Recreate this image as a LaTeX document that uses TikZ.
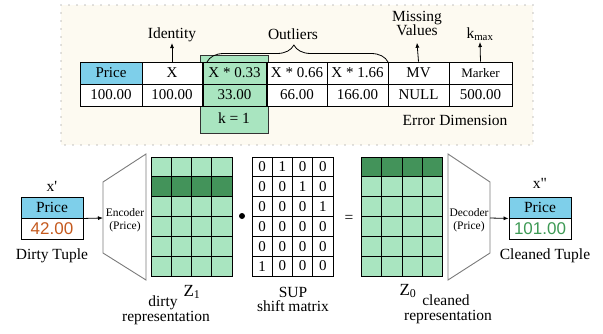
\documentclass[tikz,border=0pt]{standalone}
\usepackage{fontspec}
\setmainfont{Liberation Serif}
\setsansfont{Liberation Sans}
\usetikzlibrary{decorations.pathreplacing,arrows.meta}
\definecolor{cream}{HTML}{FDFAF1}
\definecolor{hdrblue}{HTML}{7ECFEA}
\definecolor{lgreen}{HTML}{A9E5C0}
\definecolor{dgreen}{HTML}{43935A}
\definecolor{dirtyc}{HTML}{C55A1E}
\definecolor{cleanc}{HTML}{3E9A55}
\definecolor{trapc}{HTML}{7A7A7A}
\begin{document}
\begin{tikzpicture}[x=1pt,y=-1pt,
  txt/.style={inner sep=1pt, font=\fontsize{15.5}{17}\selectfont},
  tight/.style={inner sep=0pt, text height=9pt, text depth=2pt, font=\fontsize{15.5}{17}\selectfont},
  tcell/.style={draw=black, line width=0.9pt, minimum height=22, inner sep=0pt, font=\fontsize{15}{17}\selectfont},
  gcell/.style={draw=black, line width=0.9pt, minimum width=20.25, minimum height=19.83, inner sep=0pt, font=\fontsize{15}{17}\selectfont},
  tup/.style={draw=black, line width=0.9pt, minimum width=62, minimum height=21, inner sep=0pt},
  arr/.style={-{Latex[length=5pt,width=4pt]}, line width=0.8pt},
  trap/.style={draw=trapc, line width=0.9pt}
]
\useasboundingbox (0,0) rectangle (603,333);

% top frame
\draw[draw=gray, fill=cream, line width=1.2pt, line cap=round, dash pattern=on 0pt off 8pt] (61,5) rectangle (533,145);

% k = 1 box
\node[draw=black!80, line width=0.9pt, fill=lgreen, minimum width=68, minimum height=78, inner sep=0pt, anchor=north west] (kbox) at (200,55) {};
\node[txt] (k1) at (234,118) {k = 1};

% table header row
\node[tcell, fill=hdrblue, minimum width=62] (h1) at (111,73) {Price};
\node[tcell, fill=white, minimum width=60] (h2) at (172,73) {X};
\node[tcell, minimum width=63] (h3) at (234.5,73) {X * 0.33};
\node[tcell, fill=white, minimum width=60] (h4) at (297,73) {X * 0.66};
\node[tcell, fill=white, minimum width=61] (h5) at (357.5,73) {X * 1.66};
\node[tcell, fill=white, minimum width=61] (h6) at (418.5,73) {MV};
\node[tcell, fill=white, minimum width=63, font=\fontsize{13}{14}\selectfont] (h7) at (480.5,73) {Marker};
% value row
\node[tcell, fill=white, minimum width=62] (v1) at (111,95) {100.00};
\node[tcell, fill=white, minimum width=60] (v2) at (172,95) {100.00};
\node[tcell, minimum width=63] (v3) at (234.5,95) {33.00};
\node[tcell, fill=white, minimum width=60] (v4) at (297,95) {66.00};
\node[tcell, fill=white, minimum width=61] (v5) at (357.5,95) {166.00};
\node[tcell, fill=white, minimum width=61] (v6) at (418.5,95) {NULL};
\node[tcell, fill=white, minimum width=63] (v7) at (480.5,95) {500.00};

% labels above
\node[txt, anchor=south] (ident) at (172,43) {Identity};
\draw[arr] (h2.north) -- (ident.south);
\node[txt, anchor=center] (outl) at (293,34) {Outliers};
\coordinate (bl) at (207,62);
\coordinate (br) at (388,62);
\draw[line width=0.8pt, decorate, decoration={brace, amplitude=17pt, aspect=0.48}] (bl) -- (br);
\node[tight] (mvl1) at (417,18) {Missing};
\node[tight] (mvl2) at (417,32) {Values};
\draw[arr] (h6.north) -- ([yshift=-5pt]mvl2.south);
\node[txt, anchor=south] (kmax) at (480,42) {k\textsubscript{max}};
\draw[arr] (h7.north) -- (kmax.south);
\node[txt] (errd) at (455,120) {Error Dimension};

% dirty tuple
\node[txt] (xp) at (52,186) {x\textquotesingle};
\node[tup, fill=hdrblue, font=\fontsize{15.5}{17}\selectfont] (dprice) at (52,207.5) {Price};
\node[tup, fill=white, font=\sffamily\fontsize{17}{19}\selectfont, text=dirtyc] (dval) at (52,228.5) {42.00};
\node[txt] (dtup) at (52,256) {Dirty Tuple};

% encoder
\coordinate (e1) at (103,182);
\coordinate (e2) at (146,154);
\coordinate (e3) at (146,280);
\coordinate (e4) at (103,253);
\coordinate (encin) at (103,218);
\draw[trap] (e1) -- (e2) -- (e3) -- (e4) -- cycle;
\node[align=center, font=\fontsize{11.5}{13}\selectfont, inner sep=0pt] (enc) at (125,220) {Encoder\\(Price)};
\draw[arr] (dprice.south east) -- (encin);

% Z1 grid
\foreach \r/\col in {1/lgreen,2/dgreen,3/lgreen,4/lgreen,5/lgreen,6/lgreen}
  \foreach \c in {1,...,4}
    \node[gcell, fill=\col] (za-\r-\c) at ({151+20.25*(\c-0.5)},{157+19.83*(\r-0.5)}) {};

% dot
\node[circle, fill=black, inner sep=0pt, minimum size=6pt] (dot) at (242,216) {};

% SUP matrix
\foreach \r/\row in {1/{0,1,0,0},2/{0,0,1,0},3/{0,0,0,1},4/{0,0,0,0},5/{0,0,0,0},6/{1,0,0,0}}
  \foreach \v [count=\c] in \row
    \node[gcell, fill=white] (s-\r-\c) at ({252+20.25*(\c-0.5)},{157+19.83*(\r-0.5)}) {\v};

\node[txt] (eq) at (349,219) {=};

% Z0 grid
\foreach \r/\col in {1/dgreen,2/lgreen,3/lgreen,4/lgreen,5/lgreen,6/lgreen}
  \foreach \c in {1,...,4}
    \node[gcell, fill=\col] (zb-\r-\c) at ({361.5+20.25*(\c-0.5)},{157+19.83*(\r-0.5)}) {};

% decoder
\coordinate (d1) at (448,154);
\coordinate (d2) at (490,182);
\coordinate (d3) at (490,253);
\coordinate (d4) at (448,280);
\coordinate (decout) at (490,218);
\draw[trap] (d1) -- (d2) -- (d3) -- (d4) -- cycle;
\node[align=center, font=\fontsize{11.5}{13}\selectfont, inner sep=0pt] (dec) at (469,220) {Decoder\\(Price)};

% cleaned tuple
\node[txt] (xpp) at (540,183) {x\textquotedbl};
\node[tup, fill=hdrblue, font=\fontsize{15.5}{17}\selectfont] (cprice) at (540,207.5) {Price};
\node[tup, fill=white, font=\sffamily\fontsize{17}{19}\selectfont, text=cleanc] (cval) at (540,228.5) {101.00};
\node[txt] (ctup) at (545,256) {Cleaned Tuple};
\draw[arr] (decout) -- (cprice.south west);

% bottom labels
\node[txt, font=\fontsize{17}{19}\selectfont] (z1l) at (192,292) {Z\textsubscript{1}};
\node[tight] (dirtyl) at (163,303) {dirty};
\node[tight] (repl1) at (166,318) {representation};
\node[tight] (supl) at (293,294) {SUP};
\node[tight] (shiftl) at (293,308) {shift matrix};
\node[txt, font=\fontsize{17}{19}\selectfont] (z0l) at (408,291) {Z\textsubscript{0}};
\node[tight] (cleanl) at (446,302) {cleaned};
\node[tight] (repl2) at (448,317) {representation};
\end{tikzpicture}
\end{document}
